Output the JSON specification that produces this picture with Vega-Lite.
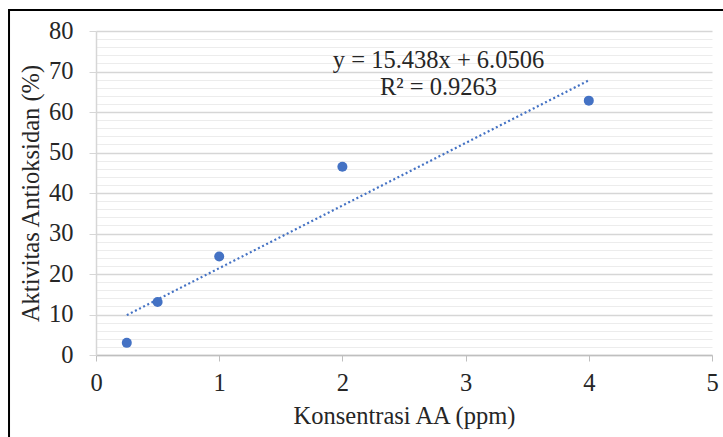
{
  "$schema": "https://vega.github.io/schema/vega-lite/v6.json",
  "width": 616,
  "height": 324,
  "autosize": {"type": "none"},
  "padding": {"left": 96, "top": 31, "right": 11, "bottom": 82},
  "background": "white",
  "config": {
    "view": {"stroke": null},
    "font": "Liberation Serif",
    "axis": {
      "labelFont": "Liberation Serif",
      "titleFont": "Liberation Serif",
      "labelFontSize": 24.5,
      "titleFontSize": 24.5,
      "titleFontWeight": "normal",
      "labelColor": "#262626",
      "titleColor": "#262626",
      "labelFlush": false,
      "labelOverlap": false
    }
  },
  "data": {
    "values": [
      {"konsentrasi": 0.25, "aktivitas": 3.0},
      {"konsentrasi": 0.5, "aktivitas": 13.1},
      {"konsentrasi": 1, "aktivitas": 24.3},
      {"konsentrasi": 2, "aktivitas": 46.5},
      {"konsentrasi": 4, "aktivitas": 62.8}
    ]
  },
  "resolve": {"axis": {"y": "independent", "x": "independent"}},
  "layer": [
    {
      "transform": [
        {"regression": "aktivitas", "on": "konsentrasi", "method": "linear", "extent": [0.25, 4]}
      ],
      "mark": {"type": "line", "color": "#4472C4", "strokeWidth": 2.2, "strokeDash": [2, 2.6], "strokeCap": "butt"},
      "encoding": {
        "x": {
          "field": "konsentrasi",
          "type": "quantitative",
          "scale": {"domain": [0, 5], "nice": false, "zero": false},
          "axis": null
        },
        "y": {
          "field": "aktivitas",
          "type": "quantitative",
          "scale": {"domain": [0, 80], "nice": false},
          "axis": {
            "orient": "left",
            "title": null,
            "values": [2,4,6,8,12,14,16,18,22,24,26,28,32,34,36,38,42,44,46,48,52,54,56,58,62,64,66,68,72,74,76,78],
            "labels": false,
            "ticks": false,
            "domain": false,
            "grid": true,
            "gridColor": "#ececec",
            "gridWidth": 1
          }
        }
      }
    },
    {
      "mark": {"type": "point", "filled": true, "size": 100, "color": "#4472C4", "opacity": 1},
      "encoding": {
        "x": {
          "field": "konsentrasi",
          "type": "quantitative",
          "axis": {
            "title": "Konsentrasi AA (ppm)",
            "values": [0, 1, 2, 3, 4, 5],
            "format": "d",
            "grid": false,
            "domainColor": "#bfbfbf",
            "domainWidth": 1.5,
            "tickColor": "#bfbfbf",
            "tickSize": 6,
            "labelPadding": 10,
            "titlePadding": 10
          }
        },
        "y": {
          "field": "aktivitas",
          "type": "quantitative",
          "axis": {
            "orient": "left",
            "title": "Aktivitas Antioksidan (%)",
            "values": [0, 10, 20, 30, 40, 50, 60, 70, 80],
            "grid": true,
            "gridColor": "#d6d6d6",
            "gridWidth": 1.3,
            "tickColor": "#d6d6d6",
            "tickSize": 7,
            "labelPadding": 16,
            "domainColor": "#d6d6d6",
            "domainWidth": 1.5,
            "titlePadding": 5
          }
        }
      }
    },
    {
      "data": {"values": [{"eq": "y = 15.438x + 6.0506", "r2": "R² = 0.9263"}]},
      "mark": {"type": "text", "align": "center", "baseline": "alphabetic", "fontSize": 24.5, "font": "Liberation Serif", "fontWeight": "normal", "color": "#262626"},
      "encoding": {
        "x": {"datum": 2.78, "type": "quantitative", "axis": null},
        "y": {"datum": 70.9, "type": "quantitative", "axis": null},
        "text": {"field": "eq"}
      }
    },
    {
      "data": {"values": [{"eq": "y = 15.438x + 6.0506", "r2": "R² = 0.9263"}]},
      "mark": {"type": "text", "align": "center", "baseline": "alphabetic", "fontSize": 24.5, "font": "Liberation Serif", "fontWeight": "normal", "color": "#262626"},
      "encoding": {
        "x": {"datum": 2.78, "type": "quantitative", "axis": null},
        "y": {"datum": 64.2, "type": "quantitative", "axis": null},
        "text": {"field": "r2"}
      }
    },
    {
      "data": {"values": [{}]},
      "mark": {"type": "rect", "fill": null, "fillOpacity": 0, "stroke": "#000000", "strokeWidth": 2},
      "encoding": {
        "x": {"datum": -0.706, "type": "quantitative", "axis": null},
        "x2": {"datum": 5.2},
        "y": {"datum": 85.2, "type": "quantitative", "axis": null},
        "y2": {"datum": -30}
      }
    }
  ]
}
